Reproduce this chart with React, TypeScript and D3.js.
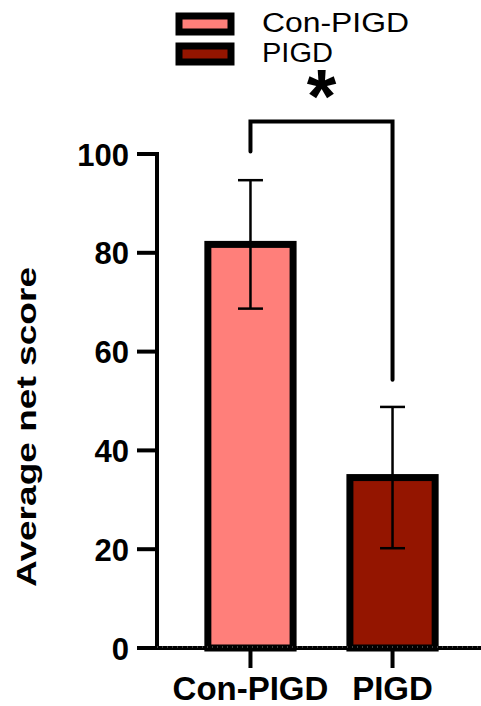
import * as d3 from "d3";

const groups = ["Con-PIGD", "PIGD"];
const means = [81.7, 34.5];
const errors = [13, 14.3];
const colors = ["#FF7F7A", "#941500"];
const yTicks = [0, 20, 40, 60, 80, 100];
// significance bracket: top line, left leg end, right leg end (in data units)
const bracketLevels = [106.6, 100.5, 54.3];
const sigLabel = "*";

const W = 481, H = 706;
const axisX = 157;

const App = () => {
    const y = d3.scaleLinear().domain([0, 100]).range([648, 154]);
    const x = d3.scaleBand().domain(groups).range([axisX, 486]).paddingInner(0.4).paddingOuter(0.358);
    const bw = x.bandwidth();
    const cx = (g) => x(g) + bw / 2;
    const font = "'Liberation Sans', Arial, sans-serif";

    return (
        <svg width={W} height={H} style={{ position: "absolute", left: 0, top: 0 }} fontFamily={font}>
            {/* legend */}
            {groups.map((g, i) => (
                <g key={"lg" + i}>
                    <rect x={179} y={16 + i * 30} width={52} height={16} fill={colors[i]} stroke="#000" strokeWidth={7} />
                    <text x={262} y={32 + i * 30} fontSize={27} textLength={i === 0 ? 147 : 71} lengthAdjust="spacingAndGlyphs">{g}</text>
                </g>
            ))}

            {/* y axis */}
            <line x1={axisX} x2={axisX} y1={y(100) - 2} y2={y(0)} stroke="#000" strokeWidth={4} />
            {yTicks.map(t => (
                <g key={"t" + t}>
                    <line x1={137} x2={axisX} y1={y(t)} y2={y(t)} stroke="#000" strokeWidth={4} />
                    <text x={129} y={y(t) + 11.5} textAnchor="end" fontSize={31} fontWeight="bold">{t}</text>
                </g>
            ))}
            <text transform={`translate(36,427) rotate(-90)`} textAnchor="middle" fontSize={28} fontWeight="bold" textLength={320} lengthAdjust="spacingAndGlyphs">Average net score</text>

            {/* bars */}
            {groups.map((g, i) => (
                <rect key={"b" + i} x={x(g)} y={y(means[i])} width={bw} height={y(0) - y(means[i])} fill={colors[i]} stroke="#000" strokeWidth={7} />
            ))}

            {/* error bars */}
            {groups.map((g, i) => (
                <g key={"e" + i} stroke="#000" strokeWidth={2.5}>
                    <line x1={cx(g)} x2={cx(g)} y1={y(means[i] + errors[i])} y2={y(means[i] - errors[i])} />
                    <line x1={cx(g) - 12.5} x2={cx(g) + 12.5} y1={y(means[i] + errors[i])} y2={y(means[i] + errors[i])} />
                    <line x1={cx(g) - 12.5} x2={cx(g) + 12.5} y1={y(means[i] - errors[i])} y2={y(means[i] - errors[i])} />
                </g>
            ))}

            {/* baseline and x ticks */}
            <line x1={137} x2={W} y1={y(0)} y2={y(0)} stroke="#000" strokeWidth={4} />
            <line x1={axisX} x2={W} y1={y(0) - 1} y2={y(0) - 1} stroke="#fff" strokeWidth={1} strokeDasharray="1,4" opacity={0.5} />
            {groups.map(g => (
                <g key={"x" + g}>
                    <line x1={cx(g)} x2={cx(g)} y1={y(0)} y2={y(0) + 20} stroke="#000" strokeWidth={4} />
                    <text x={cx(g)} y={700} textAnchor="middle" fontSize={33} fontWeight="bold">{g}</text>
                </g>
            ))}

            {/* significance */}
            <path d={`M${cx(groups[0])},${y(bracketLevels[1])}V${y(bracketLevels[0])}H${cx(groups[1])}V${y(bracketLevels[2])}`}
                fill="none" stroke="#000" strokeWidth={4} strokeLinecap="round" />
            <text x={(cx(groups[0]) + cx(groups[1])) / 2} y={122} textAnchor="middle" fontSize={76} fontWeight="bold">{sigLabel}</text>
        </svg>
    );
};

export default App;
